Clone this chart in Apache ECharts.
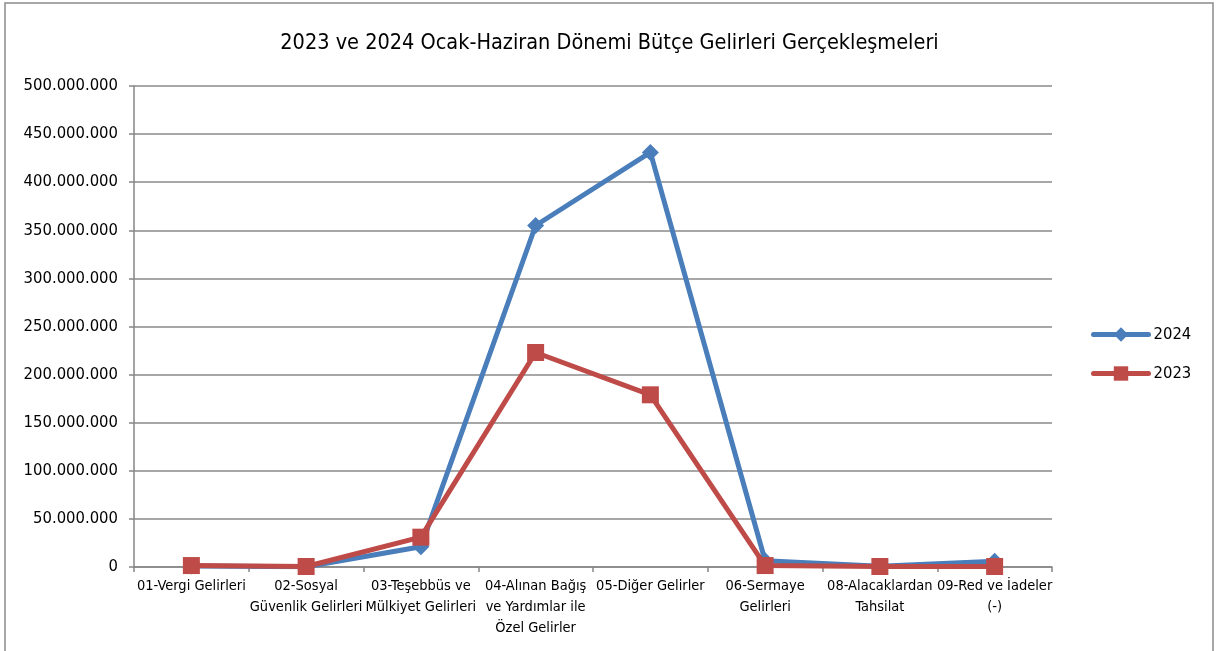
<!DOCTYPE html>
<html><head><meta charset="utf-8">
<script src="https://cdn.jsdelivr.net/npm/echarts@6/dist/echarts.min.js"></script>
<style>html,body{margin:0;padding:0;background:#fff}#c{width:1219px;height:651px}</style>
</head><body><div id="c"></div>
<script>
const titleText = "2023 ve 2024 Ocak-Haziran Dönemi Bütçe Gelirleri Gerçekleşmeleri";
const categories = ["01-Vergi Gelirleri", "02-Sosyal\nGüvenlik Gelirleri", "03-Teşebbüs ve\nMülkiyet Gelirleri", "04-Alınan Bağış\nve Yardımlar ile\nÖzel Gelirler", "05-Diğer Gelirler", "06-Sermaye\nGelirleri", "08-Alacaklardan\nTahsilat", "09-Red ve İadeler\n(-)"];
const values2024 = [1000000, 200000, 21000000, 355000000, 431000000, 6500000, 800000, 6000000];
const values2023 = [1500000, 500000, 31000000, 223000000, 179000000, 1500000, 500000, 500000];
const yTicks = [0, 50000000, 100000000, 150000000, 200000000, 250000000, 300000000, 350000000, 400000000, 450000000, 500000000];

const font = "'Liberation Sans Narrow', 'DejaVu Sans Condensed', 'Noto Sans', sans-serif";
function fmt(v){ return String(Math.round(v)).replace(/\B(?=(\d{3})+(?!\d))/g, "."); }

const chart = echarts.init(document.getElementById('c'), null, {renderer:'canvas'});
chart.setOption({
  animation:false,
  backgroundColor:'#fff',
  graphic:[{type:'rect', shape:{x:5,y:3,width:1208,height:700}, style:{fill:'none', stroke:'#8a8a8a', lineWidth:1.5}, z:-1}],
  title:{text:titleText, left:'center', top:27, textStyle:{fontFamily:font, fontSize:21.5, fontWeight:'normal', color:'#000'}},
  legend:{
    orient:'vertical', left:1086, top:321, itemGap:22, itemWidth:55, itemHeight:18,
    lineStyle:{width:5, cap:'round'},
    textStyle:{fontFamily:font, fontSize:16.5, color:'#000'},
    data:['2024','2023']
  },
  grid:{left:134, top:86, right:167, bottom:84, containLabel:false},
  xAxis:{
    type:'category', data:categories, boundaryGap:true,
    axisLine:{lineStyle:{color:'#868686', width:1.5}},
    axisTick:{show:true, alignWithLabel:false, length:5, lineStyle:{color:'#868686', width:1.5}},
    axisLabel:{interval:0, fontFamily:font, fontSize:14.5, color:'#000', lineHeight:21, margin:9}
  },
  yAxis:{
    type:'value', min:0, max:500000000, interval:50000000,
    axisLine:{show:true, lineStyle:{color:'#868686', width:1.5}},
    axisTick:{show:true, length:5, lineStyle:{color:'#868686', width:1.5}},
    splitLine:{lineStyle:{color:'#8a8a8a', width:1.5}},
    axisLabel:{fontFamily:font, fontSize:16.5, color:'#000', margin:16, formatter:function(v){return fmt(v);}}
  },
  series:[
    {name:'2024', type:'line', data:values2024, symbol:'diamond', symbolSize:17,
     lineStyle:{color:'#4a7ebb', width:5}, itemStyle:{color:'#4a7ebb'}, z:2},
    {name:'2023', type:'line', data:values2023, symbol:'rect', symbolSize:17,
     lineStyle:{color:'#be4b48', width:5}, itemStyle:{color:'#be4b48'}, z:3}
  ]
});
</script></body></html>
